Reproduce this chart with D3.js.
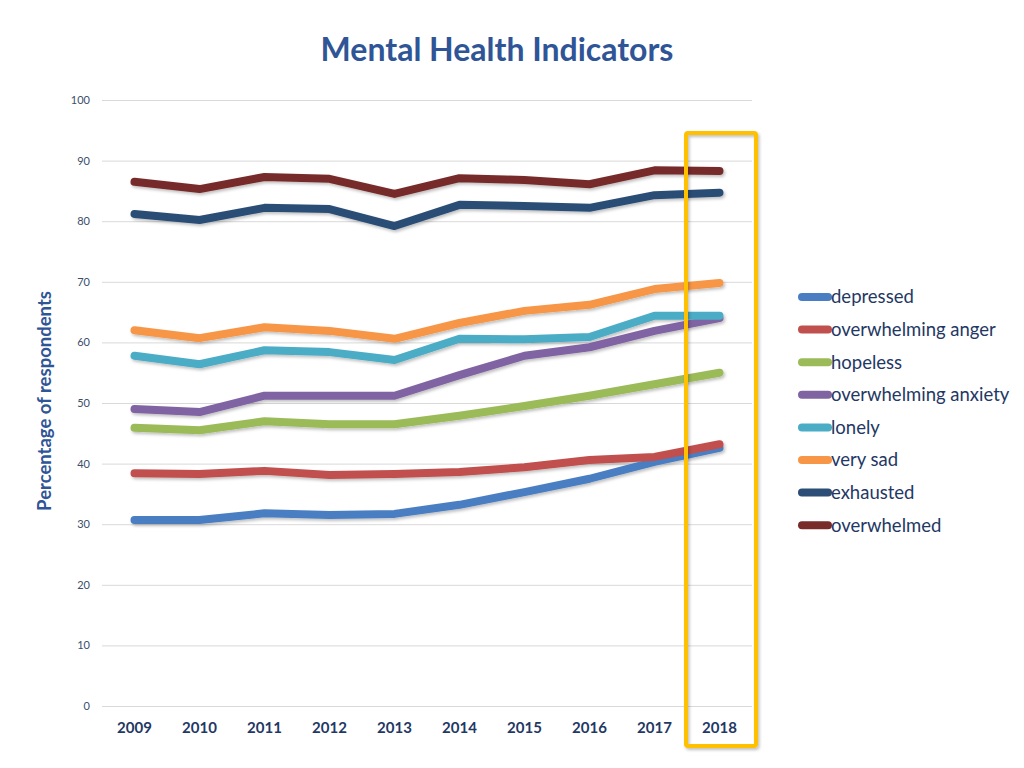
<!DOCTYPE html>
<html><head><meta charset="utf-8">
<script src="https://cdn.jsdelivr.net/npm/d3@7"></script>
<style>body{margin:0;background:#fff;} svg{display:block;}</style>
</head><body>
<script>
const years = ["2009","2010","2011","2012","2013","2014","2015","2016","2017","2018"];
const yTicks = [0,10,20,30,40,50,60,70,80,90,100];
const seriesNames = ["depressed","overwhelming anger","hopeless","overwhelming anxiety","lonely","very sad","exhausted","overwhelmed"];
const seriesColors = ["#4A7EC3","#C0504D","#9BBB59","#8064A2","#4BACC6","#F79646","#2C4D76","#772C2A"];
const depressed = [30.7,30.7,31.8,31.5,31.7,33.2,35.3,37.5,40.3,42.6];
const anger = [38.4,38.3,38.8,38.1,38.3,38.6,39.4,40.6,41.1,43.2];
const hopeless = [45.9,45.5,47.0,46.5,46.5,47.9,49.5,51.2,53.1,55.0];
const anxiety = [49.0,48.5,51.2,51.2,51.2,54.6,57.8,59.2,61.9,64.0];
const lonely = [57.8,56.4,58.7,58.4,57.1,60.6,60.5,60.9,64.4,64.4];
const verySad = [62.0,60.7,62.5,61.9,60.6,63.2,65.2,66.2,68.8,69.8];
const exhausted = [81.2,80.2,82.2,82.0,79.2,82.7,82.5,82.2,84.3,84.7];
const overwhelmed = [86.5,85.3,87.3,87.0,84.5,87.1,86.8,86.1,88.4,88.3];
const seriesValues = [depressed,anger,hopeless,anxiety,lonely,verySad,exhausted,overwhelmed];
const highlightYear = "2018";

const W=1024,H=768;
const svg=d3.select("body").append("svg").attr("width",W).attr("height",H);
const defs=svg.append("defs");
const f=defs.append("filter").attr("id","sh").attr("x","-20%").attr("y","-20%").attr("width","140%").attr("height","140%");
f.append("feDropShadow").attr("dx",1.5).attr("dy",2).attr("stdDeviation",1.5).attr("flood-color","#000").attr("flood-opacity",0.25);

const x=d3.scaleBand().domain(years).range([102,752]);
const y=d3.scaleLinear().domain([0,100]).range([706,100]);
const font="Lato, 'Open Sans', sans-serif";

svg.append("text").attr("x",497).attr("y",61).attr("text-anchor","middle")
 .attr("font-family",font).attr("font-weight","bold").attr("font-size",32).attr("fill","#2F5597")
 .text("Mental Health Indicators");

// grid
const ya=svg.append("g").attr("transform","translate(102,0)")
 .call(d3.axisLeft(y).tickValues(yTicks).tickSize(-650).tickPadding(12));
ya.select(".domain").remove();
ya.selectAll(".tick line").attr("stroke","#D9D9D9");
ya.selectAll(".tick text").attr("font-family",font).attr("font-size",11).attr("fill","#3B4E6B");

const xa=svg.append("g").attr("transform","translate(0,706)")
 .call(d3.axisBottom(x).tickSize(0).tickPadding(16));
xa.select(".domain").remove();
xa.selectAll(".tick text").attr("font-family",font).attr("font-weight","bold").attr("font-size",15).attr("fill","#1F3864");

svg.append("text").attr("transform","translate(51,401) rotate(-90)").attr("text-anchor","middle")
 .attr("font-family",font).attr("font-weight","bold").attr("font-size",18.5).attr("fill","#2F5597")
 .text("Percentage of respondents");

const line=d3.line().x((d,i)=>x(years[i])+x.bandwidth()/2).y(d=>y(d));
const lg=svg.append("g").attr("filter","url(#sh)");
seriesValues.forEach((vals,k)=>{
  lg.append("path").datum(vals).attr("d",line).attr("fill","none")
   .attr("stroke",seriesColors[k]).attr("stroke-width",8)
   .attr("stroke-linecap","round").attr("stroke-linejoin","round");
});

// highlight box
svg.append("rect").attr("x",x(highlightYear)-1).attr("y",133)
 .attr("width",x.bandwidth()+5).attr("height",613)
 .attr("fill","none").attr("stroke","#FFC000").attr("stroke-width",4).attr("rx",2)
 .attr("filter","url(#sh)");

// legend
const leg=svg.append("g");
seriesNames.forEach((n,k)=>{
  const yy=297+k*32.6;
  leg.append("line").attr("x1",802).attr("x2",828).attr("y1",yy).attr("y2",yy)
   .attr("stroke",seriesColors[k]).attr("stroke-width",8).attr("stroke-linecap","round");
  leg.append("text").attr("x",831).attr("y",yy).attr("dy","0.35em")
   .attr("font-family",font).attr("font-size",18.5).attr("fill","#1F3864").text(n);
});
</script>
</body></html>
